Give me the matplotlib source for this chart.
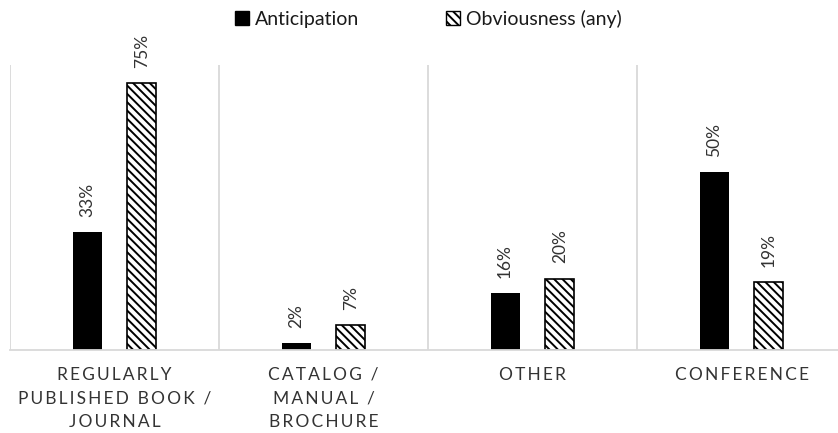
import matplotlib
matplotlib.use("Agg")
import matplotlib.pyplot as plt
from matplotlib.patches import Patch
import numpy as np

categories = ["REGULARLY\nPUBLISHED BOOK /\nJOURNAL", "CATALOG /\nMANUAL /\nBROCHURE", "OTHER", "CONFERENCE"]
anticipation = [33, 2, 16, 50]
obviousness = [75, 7, 20, 19]

plt.rcParams['font.family'] = ['Lato', 'DejaVu Sans']
plt.rcParams['hatch.linewidth'] = 1.4

text_col = '#333333'
grid_col = '#d9d9d9'


def spaced(label):
    # wide letter spacing, one line at a time
    return "\n".join("\u2009".join(line) for line in label.split("\n"))


fig = plt.figure(figsize=(8.38, 4.33), dpi=100)
ax = fig.add_axes([10 / 838, 83 / 433, 836 / 838, 285 / 433])

x = np.arange(len(categories))
w = 0.139
off = 0.131

b1 = ax.bar(x - off, anticipation, w, color='black', edgecolor='black', linewidth=0)
b2 = ax.bar(x + off, obviousness, w, color='white', edgecolor='black',
            linewidth=1.2, hatch='\\\\\\\\')

for bars in (b1, b2):
    ax.bar_label(bars, fmt='{:.0f}%', padding=11, rotation=90,
                 fontsize=12.5, color=text_col)

ax.set_xlim(-0.5, len(categories) - 0.5)
ax.set_ylim(0, 80)

# category separators
for sep in np.arange(-0.5, len(categories), 1.0):
    ax.axvline(sep, color=grid_col, linewidth=1.3, zorder=0)

for side in ['top', 'right', 'left']:
    ax.spines[side].set_visible(False)
ax.spines['bottom'].set_color(grid_col)
ax.spines['bottom'].set_linewidth(1.3)
ax.set_yticks([])
ax.set_xticks(x)
ax.set_xticklabels([spaced(c) for c in categories], fontsize=12.5,
                   color=text_col, linespacing=1.6)
ax.tick_params(axis='x', length=0, pad=12)

handles = [Patch(facecolor='black', edgecolor='black', label='Anticipation'),
           Patch(facecolor='white', edgecolor='black', hatch='\\\\\\\\', label='Obviousness (any)')]
fig.legend(handles=handles, loc='center', bbox_to_anchor=(0.511, 0.956), ncol=2,
           frameon=False, fontsize=14, handlelength=0.7, handleheight=0.7,
           handletextpad=0.3, columnspacing=4.5, labelcolor='#1a1a1a')

fig.savefig('out.png', dpi=100)
